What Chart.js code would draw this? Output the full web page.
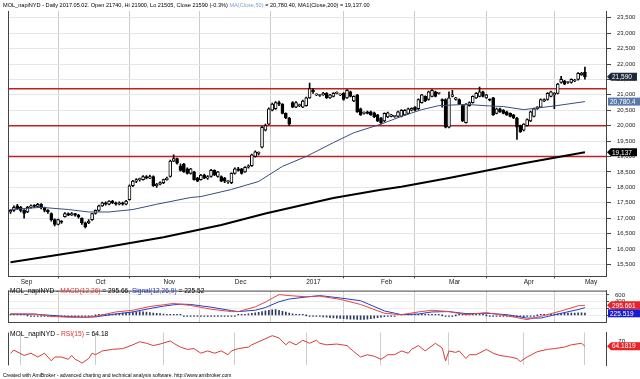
<!DOCTYPE html>
<html><head><meta charset="utf-8">
<script src="https://cdn.jsdelivr.net/npm/chart.js@4.4.0/dist/chart.umd.min.js"></script>
<style>
html,body{margin:0;padding:0;background:#fff;width:640px;height:379px;overflow:hidden;font-family:"Liberation Sans",Arial,sans-serif;}
canvas{position:absolute;left:0;}
.t{position:absolute;white-space:nowrap;font-size:6px;line-height:7px;color:#000;z-index:5;}
.blue{color:#7f9fd6}.red{color:#e03030}.sig{color:#2233c0}
</style></head><body>
<canvas id="cPrice" width="640" height="286" style="top:0"></canvas>
<canvas id="cMacd" width="640" height="43" style="top:285px"></canvas>
<canvas id="cRsi" width="640" height="44" style="top:327px"></canvas>
<div class="t" style="left:3px;top:2px;font-size:5.6px">MOL_napiNYD - Daily 2017.05.02. Open 21740, Hi 21900, Lo 21505, Close 21590 (-0.3%) <span class="blue">MA(Close,50)</span> = 20,780.40, MA1(Close,200) = 19,137.00</div>
<div class="t" style="left:10px;top:287px;font-size:6.6px">MOL_napiNYD - <span class="red">MACD(12,26)</span> = 295.66, <span class="sig">Signal(12,26,9)</span> = 225.52</div>
<div class="t" style="left:10px;top:330px;font-size:6.7px">MOL_napiNYD - <span class="red">RSI(15)</span> = 64.18</div>
<div class="t" style="left:3px;top:372px;font-size:5px">Created with AmiBroker - advanced charting and technical analysis software. http://www.amibroker.com</div>
<script>
// ---------- data ----------
const monthIdx = [3, 25, 45, 66, 87, 109, 129, 151, 169];
const monthLabels = ['Sep', 'Oct', 'Nov', 'Dec', '2017', 'Feb', 'Mar', 'Apr', 'May'];

const open = [
17200,17250,17400,17350,17250,17200,17350,17400,17380,17450,
17350,17250,17150,16950,16800,16900,17050,17150,17100,17150,
17100,17000,16850,16850,16950,17150,17250,17400,17500,17450,
17550,17500,17450,17500,17450,17600,18050,18200,18250,18250,
18350,18300,18350,18050,18100,18150,18250,18350,18850,18930,
18700,18750,18600,18450,18500,18300,18250,18400,18300,18350,
18550,18350,18350,18300,18180,18150,18450,18600,18600,18500,
18650,18700,19000,19100,19300,19850,20050,20500,20550,20750,
20700,20400,20250,20750,20600,20650,20600,20650,20900,21150,
21000,20980,21000,21050,20900,20950,21050,21000,21050,20900,
21100,20800,21000,20550,20400,20450,20450,20420,20350,20250,
20150,20280,20300,20300,20300,20300,20350,20400,20500,20600,
20550,20750,20950,20850,20950,21100,21050,20850,20850,19950,
20950,20850,20850,20650,20100,20650,20750,20900,20950,21100,
20900,20850,20900,20400,20550,20500,20450,20400,20350,20250,
20000,19850,20000,20150,20300,20550,20600,20800,20850,20950,
21000,21050,21400,21450,21400,21400,21450,21500,21650,21740];
const high = [
17280,17400,17450,17380,17280,17380,17430,17440,17480,17470,
17360,17280,17170,16980,16970,16920,17180,17170,17180,17160,
17120,17010,16870,16950,17160,17270,17420,17520,17530,17570,
17580,17520,17530,17520,17580,18080,18230,18280,18300,18380,
18380,18400,18370,18130,18180,18270,18330,18880,19050,18950,
18760,18780,18630,18620,18520,18320,18420,18430,18380,18580,
18570,18520,18370,18320,18220,18470,18630,18650,18620,18670,
18730,19080,19180,19150,19980,20050,20580,20730,20780,20800,
20720,20420,20270,20780,20780,20700,20830,20930,21380,21200,
21030,21010,21080,21070,21020,21070,21100,21030,21070,21170,
21120,20970,21020,20570,20450,20470,20470,20440,20370,20270,
20420,20440,20370,20330,20470,20520,20520,20570,20580,20620,
20870,21020,20970,21120,21170,21120,21080,20870,20870,21100,
21150,20920,20870,20670,20720,20770,20970,21070,21250,21120,
21020,20870,20920,20570,20570,20520,20470,20420,20370,20270,
20020,20070,20220,20470,20570,20620,20870,20870,21070,21120,
21070,21370,21600,21470,21430,21520,21500,21720,21730,21900];
const low = [
17150,17220,17280,17200,17000,17180,17320,17340,17350,17300,
17200,17150,16900,16750,16780,16830,17030,17080,17090,17060,
17000,16800,16680,16820,16930,17130,17230,17380,17420,17430,
17470,17420,17430,17420,17430,17580,18020,18150,18200,18230,
18270,18280,18030,18000,18080,18120,18230,18330,18830,18750,
18520,18480,18430,18430,18230,18180,18230,18280,18260,18330,
18380,18330,18180,18150,18130,18120,18430,18520,18430,18480,
18620,18680,18980,19050,19280,19830,20030,20480,20530,20650,
20380,20230,20000,20580,20580,20620,20580,20630,20880,21050,
20970,20950,20980,20880,20880,20930,21030,20970,20830,20880,
20930,20780,20430,20330,20370,20380,20330,20260,20130,20050,
20130,20260,20280,20270,20280,20280,20330,20380,20480,20480,
20520,20730,20780,20830,20930,20930,21020,20600,19930,19930,
20930,20830,20680,20130,20080,20630,20730,20880,20930,20930,
20880,20800,20330,20380,20430,20380,20330,20280,20230,19550,
19780,19830,19980,20130,20280,20530,20580,20780,20830,20930,
20550,21030,21380,21330,21370,21380,21430,21480,21630,21505];
const close = [
17250,17350,17300,17250,17150,17350,17400,17380,17450,17350,
17250,17200,16950,16800,16950,16870,17150,17100,17150,17100,
17050,16850,16720,16900,17150,17250,17400,17500,17450,17550,
17500,17450,17500,17450,17550,18050,18200,18250,18250,18350,
18300,18350,18050,18100,18150,18250,18300,18850,18930,18780,
18550,18500,18450,18600,18250,18200,18400,18300,18350,18550,
18400,18500,18200,18200,18180,18450,18600,18550,18450,18650,
18700,19050,19150,19100,19950,20000,20550,20700,20750,20700,
20400,20250,20050,20600,20750,20650,20800,20900,21200,21100,
21000,20980,21050,20900,21000,21050,21070,21000,20850,21150,
20950,20950,20450,20350,20400,20400,20350,20280,20150,20100,
20400,20420,20350,20300,20450,20500,20500,20550,20560,20500,
20850,21000,20800,21100,21150,20950,21050,20800,19950,20900,
21000,20900,20700,20150,20700,20750,20950,21050,21100,20950,
21000,20830,20350,20550,20450,20400,20350,20300,20250,19950,
19800,20050,20200,20450,20550,20600,20850,20850,21050,21100,
21050,21350,21500,21350,21400,21500,21480,21700,21700,21590];

// moving averages: [bar index, value]
const ma50Pts = [[0,17280],[9,17350],[17,17280],[23,17200],[29,17200],[36,17280],[43,17450],[53,17670],[56,17700],[65,17930],[73,18190],[80,18680],[87,19000],[95,19450],[101,19770],[109,20050],[115,20300],[121,20520],[126,20650],[134,20690],[141,20640],[145,20620],[151,20520],[160,20640],[169,20780]];
const ma200Pts = [[0,15570],[25,16000],[45,16380],[62,16780],[75,17150],[95,17650],[109,17920],[115,18020],[129,18300],[151,18780],[169,19137]];
const levels = [21200, 20000, 19000];

const macdPts = [[0,40],[7,40],[12,-30],[17,-55],[22,-60],[25,-30],[31,100],[36,150],[41,260],[45,310],[48,350],[53,290],[59,180],[65,110],[67,110],[72,250],[75,390],[79,610],[82,580],[87,545],[91,565],[97,470],[103,320],[110,60],[115,20],[120,100],[124,150],[129,110],[134,20],[140,80],[146,-10],[152,-125],[156,-30],[162,130],[167,280],[169,296]];
const signalPts = [[0,40],[7,35],[12,0],[17,-40],[22,-55],[25,-45],[31,40],[36,100],[41,200],[45,270],[48,310],[50,330],[53,320],[59,240],[65,140],[67,110],[72,150],[75,230],[79,400],[82,480],[87,540],[91,580],[97,510],[103,430],[110,130],[115,20],[120,40],[124,100],[129,110],[134,50],[140,60],[146,20],[152,-80],[156,-80],[162,60],[167,170],[169,226]];
const histogram = [
5,8,6,4,2,0,-3,-5,-6,-8,
-10,-14,-18,-22,-24,-25,-22,-20,-18,-16,-15,-14,-16,-14,-10,
0,5,12,20,28,36,45,55,65,75,85,95,105,110,105,95,85,
70,60,50,40,32,25,18,10,4,
-5,-10,-15,-20,-25,-30,-30,-28,-25,-22,-20,-18,-15,-12,-8,-4,
10,20,30,45,60,75,90,110,130,150,165,170,
150,120,95,70,45,25,12,
5,0,-5,-10,-20,
-35,-45,-55,-65,-75,-85,-90,-100,-105,-110,-115,-120,-120,-118,-112,-100,-85,-70,-55,-40,
-25,-12,-3,
5,10,15,20,25,28,30,28,25,20,15,10,5,
0,-5,-10,-5,0,5,10,12,10,
8,6,4,2,0,-2,-5,-8,
-12,-18,-24,-30,-35,-40,-42,-38,-30,
-18,-8,0,10,
18,25,32,40,48,55,60,65,68,70,72,72,70];

const rsiPts = [[0,55],[1,59],[4,52],[6,55],[8,50],[10,55],[12,45],[13,50],[15,50],[17,47],[18,52],[19,47],[20,45],[21,42],[23,48],[24,55],[25,53],[27,58],[30,60],[33,61],[36,66],[38,70],[40,68],[42,65],[44,67],[47,71],[48,68],[50,63],[52,60],[54,61],[56,55],[58,58],[60,55],[62,58],[64,53],[65,58],[67,61],[70,63],[71,66],[74,72],[77,78],[79,75],[81,66],[82,70],[84,66],[86,72],[88,68],[90,72],[91,68],[93,66],[96,67],[99,65],[101,57],[103,50],[105,53],[107,51],[109,47],[111,53],[113,53],[115,58],[117,55],[118,60],[120,65],[122,58],[125,68],[127,62],[128,45],[129,58],[131,56],[132,58],[134,48],[135,53],[137,53],[140,60],[142,55],[144,52],[147,50],[149,48],[150,44],[152,50],[155,57],[158,60],[160,61],[163,63],[165,66],[168,68],[169,64.18]];

// ---------- chart setup ----------
const X_MIN = -0.74, X_MAX = 175.2;
Chart.defaults.font.family = '"Liberation Sans", Arial, sans-serif';
Chart.defaults.font.size = 6;
Chart.defaults.color = '#222';

const idx = open.map((_, i) => i);
const pts = a => a.map(([x, y]) => ({x, y}));

const framePlugin = {
  id: 'frame',
  afterDraw(chart, args, opts) {
    const {ctx, chartArea: a} = chart;
    ctx.save();
    ctx.strokeStyle = '#444';
    ctx.lineWidth = 1;
    ctx.beginPath();
    ctx.moveTo(a.left + 0.5, a.top);
    ctx.lineTo(a.left + 0.5, a.bottom);
    if (opts.top) { ctx.moveTo(a.left, a.top + 0.5); ctx.lineTo(a.right, a.top + 0.5); }
    ctx.stroke();
    ctx.restore();
  }
};

const tagPlugin = {
  id: 'tags',
  afterDraw(chart, args, opts) {
    const tags = opts.list || [];
    const ys = chart.scales.y, ctx = chart.ctx, h = 8;
    let lastBottom = -Infinity;
    ctx.save();
    ctx.font = '6.5px "Liberation Sans", Arial, sans-serif';
    ctx.textBaseline = 'middle';
    ctx.textAlign = 'left';
    tags.forEach(t => {
      let y = ys.getPixelForValue(t.value);
      if (y - h / 2 < lastBottom) y = lastBottom + h / 2;
      lastBottom = y + h / 2;
      const x0 = chart.chartArea.right + 1, x1 = t.x1;
      ctx.fillStyle = t.bg;
      ctx.beginPath();
      if (t.arrow) {
        ctx.moveTo(x0, y); ctx.lineTo(x0 + 4, y - h / 2); ctx.lineTo(x1, y - h / 2);
        ctx.lineTo(x1, y + h / 2); ctx.lineTo(x0 + 4, y + h / 2);
      } else {
        ctx.rect(x0 + 1, y - h / 2, x1 - x0 - 1, h);
      }
      ctx.closePath(); ctx.fill();
      ctx.fillStyle = '#fff';
      ctx.fillText(t.text, x0 + (t.arrow ? 5 : 3), y + 0.5);
    });
    ctx.restore();
  }
};

const xScale = (showLabels) => ({
  type: 'linear', min: X_MIN, max: X_MAX, offset: false,
  afterBuildTicks: s => { s.ticks = monthIdx.map(v => ({value: v})); },
  afterFit: s => { s.height = showLabels ? 9 : 0; },
  grid: {color: '#cccccc', tickLength: showLabels ? 2 : 0, drawTicks: showLabels, tickColor: '#444'},
  border: {color: '#444', display: true},
  ticks: {display: showLabels, autoSkip: false, maxRotation: 0, align: 'start', padding: 0,
          font: {size: 6.5}, color: '#222',
          callback: v => { const k = monthIdx.indexOf(v); return k >= 0 ? monthLabels[k] : ''; }}
});

const common = {
  responsive: false, animation: false, devicePixelRatio: 1,
  events: []
};

// ---------- price panel ----------
new Chart(document.getElementById('cPrice'), {
  type: 'bar',
  data: {datasets: [
    ...levels.map(v => ({type: 'line', data: [{x: X_MIN, y: v}, {x: X_MAX, y: v}],
        borderColor: '#c21f1f', borderWidth: 1.5, pointRadius: 0, order: 3})),
    {type: 'bar', data: idx.map(i => ({x: i, y: [low[i], high[i]]})), backgroundColor: '#000',
     barThickness: 1, grouped: false, order: 2},
    {type: 'bar', data: idx.map(i => ({x: i, y: [open[i], close[i]]})),
     backgroundColor: idx.map(i => close[i] >= open[i] ? '#fff' : '#000'),
     borderColor: '#000', borderWidth: 1, borderSkipped: false, barThickness: 3,
     minBarLength: 1, grouped: false, order: 1},
    {type: 'line', data: pts(ma200Pts), borderColor: '#000', borderWidth: 2, pointRadius: 0, order: 0},
    {type: 'line', data: pts(ma50Pts), borderColor: '#34507e', borderWidth: 1, pointRadius: 0, order: 0}
  ]},
  options: {...common,
    layout: {padding: {left: 8, top: 11, right: 0, bottom: 0}},
    plugins: {legend: {display: false}, tooltip: {enabled: false},
      frame: {top: false},
      tags: {list: [
        {value: 21590, text: '21,590', bg: '#1e2838', arrow: true, x1: 637},
        {value: 20780.4, text: '20,780.4', bg: '#5a78a8', arrow: false, x1: 640},
        {value: 19137, text: '19,137', bg: '#000', arrow: true, x1: 637}
      ]}},
    scales: {
      x: xScale(true),
      y: {position: 'right', min: 15110, max: 23720,
          afterBuildTicks: s => { const t = []; for (let v = 15500; v <= 23500; v += 500) t.push({value: v}); s.ticks = t; },
          afterFit: s => { s.width = 34; },
          grid: {color: '#e6e6e6', tickLength: 5, tickColor: '#444'},
          border: {color: '#444'},
          ticks: {padding: 6, font: {size: 6}, color: '#222', callback: v => v.toLocaleString('en-US')}}
    }
  },
  plugins: [framePlugin, tagPlugin]
});

// ---------- MACD panel ----------
new Chart(document.getElementById('cMacd'), {
  type: 'bar',
  data: {datasets: [
    {type: 'bar', data: idx.map(i => ({x: i, y: histogram[i]})), backgroundColor: '#2a3a66',
     barThickness: 1, minBarLength: 1, grouped: false, order: 2},
    {type: 'line', data: pts(signalPts), borderColor: '#2a3cc8', borderWidth: 1, pointRadius: 0, order: 1},
    {type: 'line', data: pts(macdPts), borderColor: '#e04848', borderWidth: 1, pointRadius: 0, order: 0}
  ]},
  options: {...common,
    layout: {padding: {left: 8, top: 0, right: 15, bottom: 1}},
    plugins: {legend: {display: false}, tooltip: {enabled: false},
      frame: {top: true},
      tags: {list: [
        {value: 295.66, text: '295.661', bg: '#e8242a', arrow: true, x1: 640},
        {value: 225.52, text: '225.519', bg: '#1a1ad0', arrow: false, x1: 640}
      ]}},
    scales: {
      x: xScale(false),
      y: {position: 'right', min: -207, max: 727,
          afterBuildTicks: s => { s.ticks = [0, 200, 400, 600].map(v => ({value: v})); },
          afterFit: s => { s.width = 19; },
          grid: {color: '#ececec', tickLength: 3, tickColor: '#444'},
          border: {color: '#444'},
          ticks: {crossAlign: 'far', padding: 2, font: {size: 6}, color: '#222'}}
    }
  },
  plugins: [framePlugin, tagPlugin]
});

// ---------- RSI panel ----------
new Chart(document.getElementById('cRsi'), {
  type: 'line',
  data: {datasets: [
    {data: pts(rsiPts), borderColor: '#d83c3c', borderWidth: 1, pointRadius: 0}
  ]},
  options: {...common,
    layout: {padding: {left: 8, top: 1, right: 15, bottom: 0}},
    plugins: {legend: {display: false}, tooltip: {enabled: false},
      frame: {top: false},
      tags: {list: [
        {value: 64.18, text: '64.1819', bg: '#e8242a', arrow: true, x1: 640}
      ]}},
    scales: {
      x: Object.assign(xScale(false), {border: {display: false}}),
      y: {position: 'right', min: 39, max: 82,
          afterBuildTicks: s => { s.ticks = [{value: 70}]; },
          afterFit: s => { s.width = 19; },
          grid: {display: false},
          border: {color: '#444'},
          ticks: {crossAlign: 'far', padding: 2, font: {size: 6}, color: '#222'}}
    }
  },
  plugins: [framePlugin, tagPlugin]
});
</script>
</body></html>
